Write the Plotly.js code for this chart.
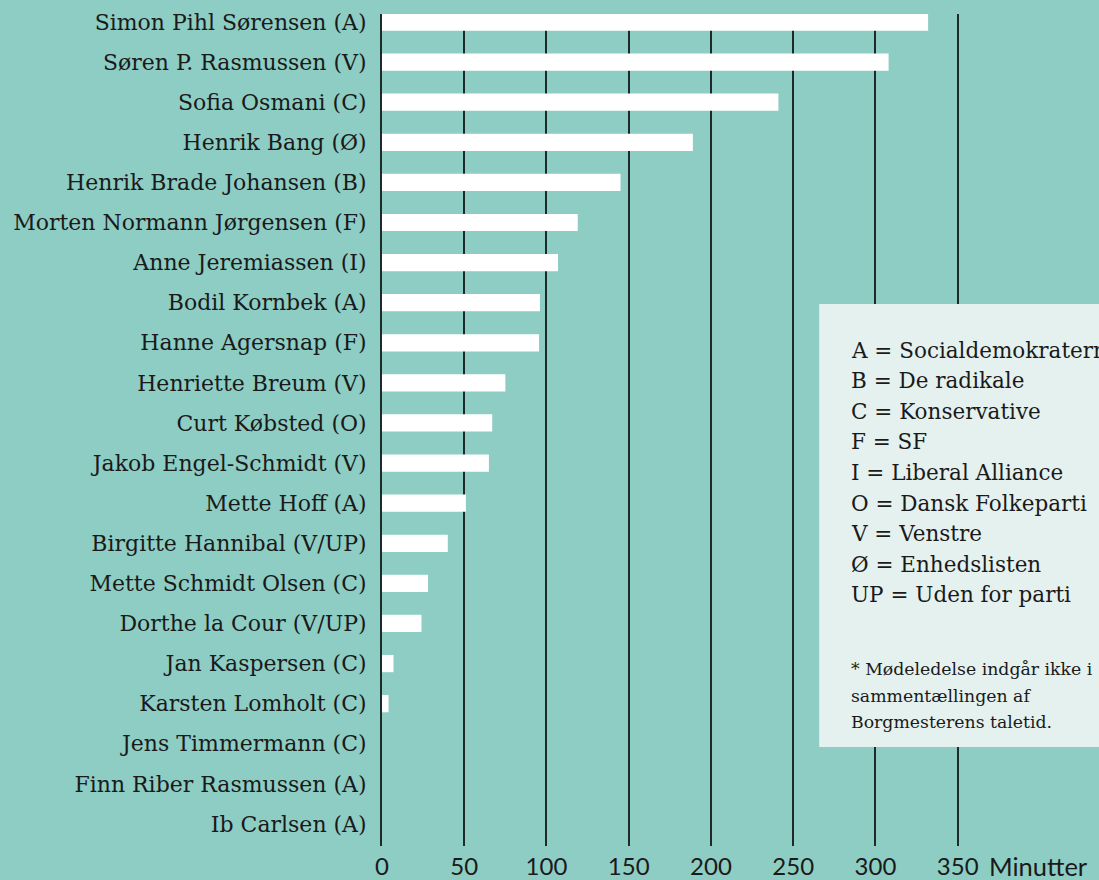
<!DOCTYPE html>
<html>
<head>
<meta charset="utf-8">
<script src="https://cdn.plot.ly/plotly-3.0.1.min.js"></script>
<style>
html,body{margin:0;padding:0;background:#8dcdc4;}
#chart{width:1099px;height:880px;}
</style>
</head>
<body>
<div id="chart"></div>
<script>
const names = [
  "Simon Pihl Sørensen (A)",
  "Søren P. Rasmussen (V)",
  "Sofia Osmani (C)",
  "Henrik Bang (Ø)",
  "Henrik Brade Johansen (B)",
  "Morten Normann Jørgensen (F)",
  "Anne Jeremiassen (I)",
  "Bodil Kornbek (A)",
  "Hanne Agersnap (F)",
  "Henriette Breum (V)",
  "Curt Købsted (O)",
  "Jakob Engel-Schmidt (V)",
  "Mette Hoff (A)",
  "Birgitte Hannibal (V/UP)",
  "Mette Schmidt Olsen (C)",
  "Dorthe la Cour (V/UP)",
  "Jan Kaspersen (C)",
  "Karsten Lomholt (C)",
  "Jens Timmermann (C)",
  "Finn Riber Rasmussen (A)",
  "Ib Carlsen (A)"
];
const minutes = [332, 308, 241, 189, 145, 119, 107, 96, 95.5, 75, 67, 65, 51, 40, 28, 24, 7, 4, 0, 0, 0];
const tickValues = [0, 50, 100, 150, 200, 250, 300, 350];
const unitLabel = "Minutter";
const legendLines = [
  "A = Socialdemokraterne",
  "B = De radikale",
  "C = Konservative",
  "F = SF",
  "I = Liberal Alliance",
  "O = Dansk Folkeparti",
  "V = Venstre",
  "Ø = Enhedslisten",
  "UP = Uden for parti"
];
const footnoteLines = [
  "* Mødeledelse indgår ikke i",
  "sammentællingen af",
  "Borgmesterens taletid."
];

const W = 1099, H = 880;
const mL = 381.5, mR = 0, mT = 14, mB = 34;
const plotW = W - mL - mR, plotH = H - mT - mB;
const pxPerUnit = 82.3 / 50;
const xMax = plotW / pxPerUnit;
const px2paperX = px => (px - mL) / plotW;
const px2paperY = py => 1 - (py - mT) / plotH;

const serif = "DejaVu Serif";
const sans = "Lato";
const textColor = "#1a1a1a";

const annotations = [];
legendLines.forEach((t, i) => {
  annotations.push({
    xref: 'paper', yref: 'paper', x: px2paperX(849), y: px2paperY(350 + i * 30.6),
    xanchor: 'left', yanchor: 'middle', showarrow: false, text: t,
    font: {family: serif, size: 21.5, color: textColor}
  });
});
footnoteLines.forEach((t, i) => {
  annotations.push({
    xref: 'paper', yref: 'paper', x: px2paperX(849), y: px2paperY(669 + i * 26.5),
    xanchor: 'left', yanchor: 'middle', showarrow: false, text: t,
    font: {family: serif, size: 17.3, color: textColor}
  });
});
annotations.push({
  xref: 'x', yref: 'paper', x: 350, y: 0, xanchor: 'left', yanchor: 'middle',
  xshift: 29, yshift: -20, showarrow: false, text: unitLabel,
  font: {family: sans, size: 25.5, color: textColor}
});

const trace = {
  type: 'bar', orientation: 'h',
  x: minutes, y: names,
  marker: {color: '#ffffff', line: {width: 0}},
  width: 0.43,
  hoverinfo: 'none'
};

const layout = {
  width: W, height: H,
  margin: {l: mL, r: mR, t: mT, b: mB, pad: 0},
  paper_bgcolor: '#8dcdc4',
  plot_bgcolor: '#8dcdc4',
  showlegend: false,
  xaxis: {
    range: [0, xMax],
    tickmode: 'array', tickvals: tickValues, ticktext: tickValues.map(String),
    showgrid: true, gridcolor: '#1c2b29', gridwidth: 2,
    zeroline: false, showline: false, ticks: '',
    tickfont: {family: sans, size: 24, color: textColor},
    ticklabelstandoff: 4,
    fixedrange: true
  },
  yaxis: {
    type: 'category',
    categoryorder: 'array', categoryarray: names,
    range: [20.55, -0.2],
    showgrid: false, zeroline: false,
    showline: true, linecolor: '#1c2b29', linewidth: 2, layer: 'below traces',
    ticks: '', ticklabelstandoff: 9,
    tickfont: {family: serif, size: 22, color: textColor},
    fixedrange: true
  },
  shapes: [{
    type: 'rect', xref: 'paper', yref: 'paper',
    x0: px2paperX(819), x1: 1.1, y0: px2paperY(747), y1: px2paperY(304),
    fillcolor: '#e5f1ef', line: {width: 0}, layer: 'above'
  }],
  annotations: annotations,
  bargap: 0.57
};

Plotly.newPlot('chart', [trace], layout, {displayModeBar: false, staticPlot: true});
</script>
</body>
</html>
